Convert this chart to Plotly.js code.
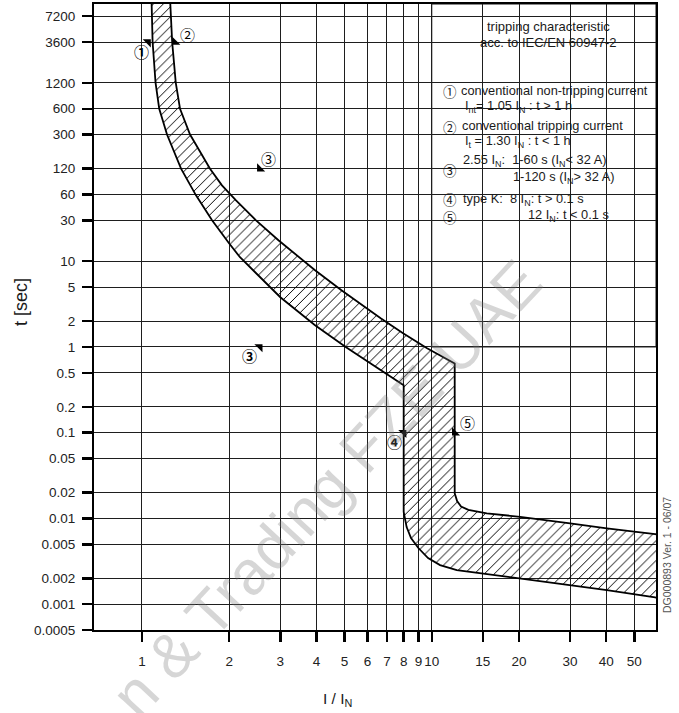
<!DOCTYPE html>
<html><head><meta charset="utf-8">
<script src="https://cdn.plot.ly/plotly-3.0.1.min.js"></script>
<style>html,body{margin:0;padding:0;background:#fff;}#chart{width:679px;height:713px;}</style>
</head><body><div id="chart"></div>
<script>
// ---- data ----
const xTickVals = [1,2,3,4,5,6,7,8,9,10,15,20,30,40,50];
const xTickText = ['1','2','3','4','5','6','7','8','9','10','15','20','30','40','50'];
const yTickVals = [0.0005,0.001,0.002,0.005,0.01,0.02,0.05,0.1,0.2,0.5,1,2,5,10,30,60,120,300,600,1200,3600,7200];
const yTickText = ['0.0005','0.001','0.002','0.005','0.01','0.02','0.05','0.1','0.2','0.5','1','2','5','10','30','60','120','300','600','1200','3600','7200'];

// upper (max tripping time) boundary, from top to the right
const upperX = [1.24,1.254,1.271,1.308,1.353,1.465,1.717,1.888,2.111,2.475,2.957,3.956,4.879,6.663,7.961,9.634,12,12,12.23,12.62,13.38,15.48,20.17,30.02,40.2,59.0,62];
const upperT = [20000,9886,3600,1200,600,300,120,76.8,51.4,30.0,17.56,7.85,4.59,2.165,1.447,0.968,0.641,0.0196,0.01594,0.01375,0.01259,0.01146,0.01046,0.00876,0.00766,0.00657,0.0064];
// lower (min tripping time) boundary, from top to the right
const lowerX = [1.074,1.078,1.088,1.114,1.147,1.220,1.364,1.536,1.745,1.997,2.179,3.002,3.956,5.061,6.658,8,8,8.19,8.48,8.99,9.71,10.68,12.2,15.07,20.2,30.0,40.2,59.0,62];
const lowerT = [20000,9886,3600,1200,600,300,120,58.7,30.0,16.2,11.13,3.80,1.794,0.994,0.536,0.358,0.0119,0.00793,0.0059,0.00452,0.00345,0.00286,0.0025,0.00229,0.002,0.00167,0.00146,0.0012,0.00115];

// test points: lower limits (must not trip) and upper limits (must trip)
const lowPtX = [1.05, 2.55, 8];
const lowPtT = [3600, 1, 0.1];
const lowPtLabel = ['①','③','④'];
const upPtX = [1.30, 2.55, 12];
const upPtT = [3600, 120, 0.1];
const upPtLabel = ['②','③','⑤'];

// ---- layout helpers ----
const W=679,H=713,L=94,R=23,T=4,B=83;
const pw=W-L-R, ph=H-T-B;
const px = x => (x-L)/pw, py = y => (H-B-y)/ph;
const xr=[Math.log10(0.683), Math.log10(59.4)];
const yr=[Math.log10(0.0005), 4];
const fx = v => (Math.log10(v)-xr[0])/(xr[1]-xr[0]);
const fy = v => (Math.log10(v)-yr[0])/(yr[1]-yr[0]);

const FONT='Liberation Sans, Arial, sans-serif';
const CJK='Noto Sans CJK JP, DejaVu Sans, sans-serif';

const bandX = upperX.concat(lowerX.slice().reverse());
const bandT = upperT.concat(lowerT.slice().reverse());

const traces = [
  {x: bandX, y: bandT, mode:'lines', fill:'toself', fillcolor:'rgba(0,0,0,0)',
   fillpattern:{shape:'/', fgcolor:'#000', size:7, solidity:0.14},
   line:{color:'#000', width:1.8}, hoverinfo:'skip', showlegend:false},
  {x: lowPtX, y: lowPtT, mode:'markers', marker:{symbol:'triangle-ne', size:9, color:'#000'}, showlegend:false, hoverinfo:'skip'},
  {x: upPtX, y: upPtT, mode:'markers', marker:{symbol:'triangle-sw', size:9, color:'#000'}, showlegend:false, hoverinfo:'skip'}
];

const annotations = [];
const lowShift = [[-7,-9],[-10,-9],[-9,-9]];
const upShift = [[12,8],[9,10],[13,10]];
lowPtX.forEach((v,i)=>annotations.push({xref:'x',yref:'y',x:Math.log10(v),y:Math.log10(lowPtT[i]),
  xshift:lowShift[i][0], yshift:lowShift[i][1], text:lowPtLabel[i], showarrow:false,
  font:{family:CJK,size:15,color:'#000',weight:'bold'}}));
upPtX.forEach((v,i)=>annotations.push({xref:'x',yref:'y',x:Math.log10(v),y:Math.log10(upPtT[i]),
  xshift:upShift[i][0], yshift:upShift[i][1], text:upPtLabel[i], showarrow:false,
  font:{family:CJK,size:15,color:'#000'}}));

function txt(x,y,text,anchor,size,extra){
  annotations.push(Object.assign({xref:'paper',yref:'paper',x:px(x),y:py(y),text:text,showarrow:false,
    xanchor:anchor||'left',yanchor:'middle',font:{family:FONT,size:size||12.8,color:'#1a1a1a'}},extra||{}));
}
const NB='\u00a0';
txt(548,26,'tripping characteristic','center',13);
txt(548,42,'acc. to IEC/EN 60947-2','center',13);
['①','②','③','④','⑤'].forEach((c,i)=>{
  const yy=[91,127,170,199,217][i];
  annotations.push({xref:'paper',yref:'paper',x:px(450),y:py(yy),text:c,showarrow:false,xanchor:'center',yanchor:'middle',
    font:{family:CJK,size:13.5,color:'#1a1a1a'}});
});
txt(459,91,'conventional non-tripping current');
txt(463,106,'I<sub>nt</sub>= 1.05 I<sub>N</sub> : t &gt; 1 h');
txt(460,126,'conventional tripping current');
txt(463,141,'I<sub>t</sub> = 1.30 I<sub>N</sub> : t &lt; 1 h');
txt(461,160,'2.55 I<sub>N</sub>:'+NB+NB+'1-60 s (I<sub>N</sub>&lt; 32 A)');
txt(511,177,'1-120 s (I<sub>N</sub>&gt; 32 A)');
txt(461,199,'type K:'+NB+NB+'8 I<sub>N</sub>: t &gt; 0.1 s');
txt(526,216,'12 I<sub>N</sub>: t &lt; 0.1 s');

// axis titles
txt(337,699,'I / I<sub>N</sub>','center',15,{font:{family:FONT,size:15.5,color:'#1a1a1a'}});
annotations.push({xref:'paper',yref:'paper',x:px(21),y:py(302),text:'t [sec]',textangle:-90,showarrow:false,
  xanchor:'center',yanchor:'middle',font:{family:FONT,size:18,color:'#1a1a1a'}});
// drawing id
annotations.push({xref:'paper',yref:'paper',x:px(667),y:py(555),text:'DG000893 Ver. 1 - 06/07',textangle:-90,showarrow:false,
  xanchor:'center',yanchor:'middle',font:{family:FONT,size:10.5,color:'#555'}});
// watermark
annotations.push({xref:'paper',yref:'paper',x:px(326),y:py(488),text:'n &amp; Trading FZE UAE',textangle:-47,showarrow:false,
  xanchor:'center',yanchor:'middle',font:{family:FONT,size:62,color:'rgba(120,120,120,0.3)'}});

const shapes = [
  {type:'rect', xref:'paper', yref:'paper', x0:fx(10), x1:1, y0:fy(1), y1:1, fillcolor:'#fff',
   line:{color:'#111', width:1}, layer:'between'}
];

const axisCommon = {type:'log', showline:true, linewidth:2, linecolor:'#000', mirror:true,
  showgrid:true, gridcolor:'#1e1e1e', gridwidth:1, zeroline:false, ticks:'outside', ticklen:10, tickwidth:2.5,
  tickcolor:'#000', tickfont:{family:FONT,size:13.5,color:'#222'}, fixedrange:true, tickangle:0};

const layout = {
  width:W, height:H, margin:{l:L,r:R,t:T,b:B}, paper_bgcolor:'#fff', plot_bgcolor:'#fff', showlegend:false,
  xaxis:Object.assign({}, axisCommon, {range:xr, tickmode:'array', tickvals:xTickVals, ticktext:xTickText, ticklabelstandoff:8}),
  yaxis:Object.assign({}, axisCommon, {range:yr, tickmode:'array', tickvals:yTickVals, ticktext:yTickText, ticklabelstandoff:4}),
  annotations:annotations, shapes:shapes
};
Plotly.newPlot('chart', traces, layout, {displayModeBar:false, staticPlot:true});
</script></body></html>
